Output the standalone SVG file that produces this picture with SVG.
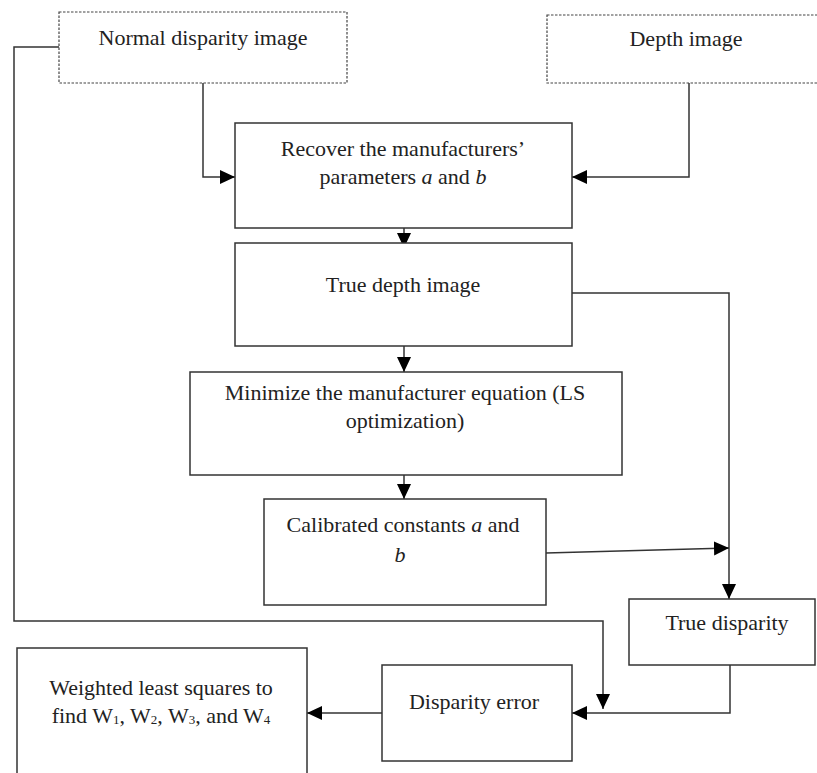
<svg xmlns="http://www.w3.org/2000/svg" width="817" height="773" viewBox="0 0 817 773">
<style>
.box{fill:#fff;stroke:#333;stroke-width:1.5}
.dash{fill:#fff;stroke:#444;stroke-width:1.2;stroke-dasharray:2.5 1.5}
.t{font-family:'Liberation Serif',Tinos,'Times New Roman','DejaVu Serif',serif;font-size:22px;fill:#222;text-anchor:middle}
.i{font-style:italic}
.c{fill:none;stroke:#333;stroke-width:1.5}
.sub{font-size:13px}
</style>
<defs>
<marker id="ah" markerUnits="userSpaceOnUse" markerWidth="15" markerHeight="15" refX="15" refY="7" orient="auto">
<path d="M0,0 L15,7 L0,14 z" fill="#000"/>
</marker>
</defs>
<rect width="817" height="773" fill="#fff"/>
<g id="connectors">
<path class="c" d="M203,83 V177 H235" marker-end="url(#ah)"/>
<path class="c" d="M689,83 V177 H572" marker-end="url(#ah)"/>
<path class="c" d="M404,228 V248" marker-end="url(#ah)"/>
<path class="c" d="M404,338 V372" marker-end="url(#ah)"/>
<path class="c" d="M404,475 V499" marker-end="url(#ah)"/>
<path class="c" d="M572,293 H729 V599" marker-end="url(#ah)"/>
<path class="c" d="M546,553 L729,548" marker-end="url(#ah)"/>
<path class="c" d="M59,47 H14 V621 H603 V709" marker-end="url(#ah)"/>
<path class="c" d="M730,665 V713 H572" marker-end="url(#ah)"/>
<path class="c" d="M382,713 H307" marker-end="url(#ah)"/>
</g>
<g id="normal-disparity">
<rect class="dash" x="59" y="12" width="288" height="71"/>
<text class="t" x="203" y="45" font-family="Liberation Serif, serif">Normal disparity image</text>
</g>
<g id="depth-image">
<rect class="dash" x="547" y="15" width="275" height="68"/>
<text class="t" x="686" y="46">Depth image</text>
</g>
<g id="recover">
<rect class="box" x="235" y="123" width="337" height="105"/>
<text class="t" x="403" y="156">Recover the manufacturers’</text>
<text class="t" x="403" y="184">parameters <tspan class="i">a</tspan> and <tspan class="i">b</tspan></text>
</g>
<g id="true-depth">
<rect class="box" x="235" y="243" width="337" height="103"/>
<text class="t" x="403" y="292">True depth image</text>
</g>
<g id="minimize">
<rect class="box" x="190" y="372" width="432" height="103"/>
<text class="t" x="405" y="400">Minimize the manufacturer equation (LS</text>
<text class="t" x="405" y="428">optimization)</text>
</g>
<g id="calibrated">
<rect class="box" x="264" y="499" width="282" height="106"/>
<text class="t" x="403" y="532">Calibrated constants <tspan class="i">a</tspan> and</text>
<text class="t i" x="400" y="562">b</text>
</g>
<g id="true-disparity">
<rect class="box" x="629" y="599" width="186" height="66"/>
<text class="t" x="727" y="630">True disparity</text>
</g>
<g id="disparity-error">
<rect class="box" x="382" y="665" width="190" height="96"/>
<text class="t" x="474" y="709">Disparity error</text>
</g>
<g id="weighted">
<rect class="box" x="17" y="648" width="290" height="135"/>
<text class="t" x="161" y="695">Weighted least squares to</text>
<text class="t" x="161" y="723">find W<tspan class="sub" dy="1">1</tspan><tspan dy="-1">, W</tspan><tspan class="sub" dy="1">2</tspan><tspan dy="-1">, W</tspan><tspan class="sub" dy="1">3</tspan><tspan dy="-1">, and W</tspan><tspan class="sub" dy="1">4</tspan></text>
</g>
</svg>
